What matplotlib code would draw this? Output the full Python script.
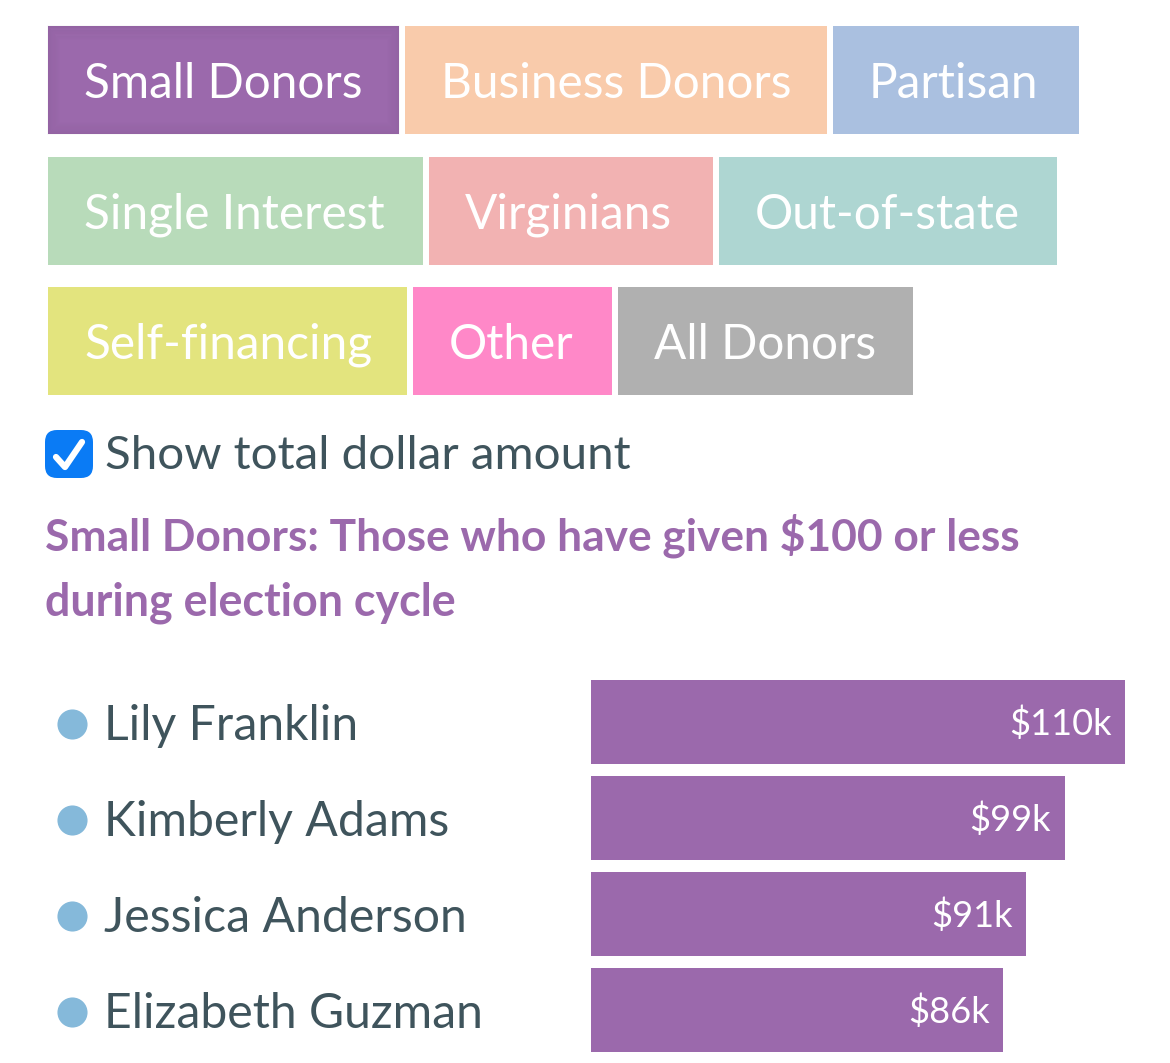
import matplotlib
matplotlib.use('Agg')
import matplotlib.pyplot as plt
from matplotlib.patches import Rectangle, FancyBboxPatch

plt.rcParams['font.family'] = ['Lato', 'DejaVu Sans']

W, H = 1170, 1063

# filter buttons, row by row
button_rows = [
    ['Small Donors', 'Business Donors', 'Partisan'],
    ['Single Interest', 'Virginians', 'Out-of-state'],
    ['Self-financing', 'Other', 'All Donors'],
]
button_colors = [
    ['#9b69ac', '#f9cbab', '#aac0e0'],
    ['#b8dbba', '#f2b2b2', '#aed6d2'],
    ['#e3e47e', '#ff88c8', '#b0b0b0'],
]
button_edges = [
    [(48, 399), (405, 827), (833, 1079)],
    [(48, 423), (429, 713), (719, 1057)],
    [(48, 407), (413, 612), (618, 913)],
]
button_tops = [26, 157, 287]

candidates = ['Lily Franklin', 'Kimberly Adams', 'Jessica Anderson', 'Elizabeth Guzman']
# bar lengths, labels are rounded
amounts = [110, 98.4, 91, 86.6]
amount_labels = ['$110k', '$99k', '$91k', '$86k']

text_dark = '#3f545c'
purple = '#9b69ac'
dot_blue = '#85b9da'

fig = plt.figure(figsize=(W / 100, H / 100), dpi=100, facecolor='white')

# page layer in pixel coordinates
bg = fig.add_axes([0, 0, 1, 1])
bg.set_xlim(0, W)
bg.set_ylim(H, 0)
bg.axis('off')

for r, row in enumerate(button_rows):
    for c, label in enumerate(row):
        x0, x1 = button_edges[r][c]
        bg.add_patch(Rectangle((x0, button_tops[r]), x1 - x0, 108, fc=button_colors[r][c], ec='none'))
        bg.text(x0 + 36, button_tops[r] + 58, label, color='white', fontsize=34.4,
                ha='left', va='center')

# inset shadow on the selected button
x0, x1 = button_edges[0][0]
for k in range(12):
    a = 0.028 * (1 - k / 12)
    bg.add_patch(Rectangle((x0 + k, 26 + k * 1.2), x1 - x0 - 2 * k, 108 - k * 2.2, fc='none',
                           ec=(0, 0, 0, a), lw=1.2))

# checkbox
bg.add_patch(FancyBboxPatch((52, 437), 34, 34, boxstyle='round,pad=7,rounding_size=12',
                            fc='#0a7bf5', ec='none'))
bg.plot([56, 65, 82], [457, 467, 442], color='white', lw=4.5, solid_capstyle='round',
        solid_joinstyle='round')
bg.text(105, 456, 'Show total dollar amount', color=text_dark, fontsize=34.2, ha='left', va='center')

bg.text(45, 536, 'Small Donors: Those who have given $100 or less', color=purple, fontsize=31.9,
        fontweight='bold', ha='left', va='center')
bg.text(45, 603, 'during election cycle', color=purple, fontsize=32.3,
        fontweight='bold', ha='left', va='center')

# bars, top 680 to bottom 1052
ax = fig.add_axes([591 / W, 1 - 1052 / H, (1125 - 591) / W, (1052 - 680) / H])
ax.axis('off')
ax.set_xlim(7.3, 110)
ax.set_ylim(3 + 42 / 96, -42 / 96)
ax.barh(range(len(amounts)), amounts, height=84 / 96, color=purple)
for i, (v, s) in enumerate(zip(amounts, amount_labels)):
    ax.text(v - 2.6, i + 0.015, s, color='white', fontsize=26.1, ha='right', va='center')

for i, name in enumerate(candidates):
    y = 724 + i * 96
    bg.scatter([72], [y], s=470, color=dot_blue, linewidths=0)
    bg.text(103.5, y + 2, name, color=text_dark, fontsize=34.7, ha='left', va='center')

fig.savefig('out.png', dpi=100)
